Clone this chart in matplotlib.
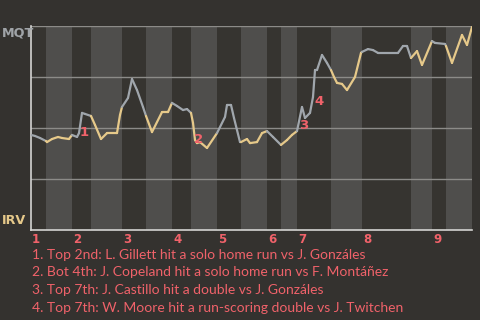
import matplotlib
matplotlib.use("Agg")
import matplotlib.pyplot as plt
from matplotlib.collections import LineCollection
import numpy as np

# half-inning start positions (play position along the game), last value = end of game
half_starts = [0, 15, 41, 60, 91, 115, 141, 160, 186, 210, 236, 250, 266, 300, 331, 380, 401, 415, 441]
innings = ["1", "2", "3", "4", "5", "6", "7", "8", "9"]

# win probability for MQT (%) at each play position
pos = [0, 4, 9, 15, 16, 21, 27, 31, 38, 41, 46, 48, 51, 54, 60, 64, 70, 76, 86, 89, 91,
       97, 101, 106, 112, 115, 121, 131, 137, 141, 146, 152, 156, 160, 162, 164, 166, 169,
       176, 186, 194, 196, 200, 203, 209, 210, 216, 219, 226, 231, 236, 242, 250, 256, 261,
       266, 271, 274, 279, 282, 284, 286, 291, 296, 300, 303, 306, 311, 316, 324, 330, 331,
       337, 342, 347, 367, 372, 376, 380, 386, 391, 401, 404, 414, 415, 421, 431, 436, 441]
wp = [46.6, 46.1, 45.1, 43.6, 43.1, 44.6, 45.6, 45.1, 44.6, 46.6, 45.6, 47.5, 57.4, 56.9,
      55.9, 51.5, 44.6, 47.5, 47.5, 56.4, 60.3, 64.7, 74.0, 68.6, 60.3, 55.9, 48.0, 57.8,
      57.8, 62.3, 60.8, 58.8, 59.3, 57.4, 52.5, 44.1, 42.6, 43.1, 40.2, 47.5, 55.4, 61.3,
      61.3, 54.9, 43.1, 43.1, 44.6, 42.6, 43.1, 47.5, 48.5, 45.6, 41.7, 44.1, 46.6, 48.5,
      60.3, 54.9, 57.4, 65.2, 78.4, 78.4, 85.8, 81.9, 78.4, 75.0, 72.1, 71.6, 68.6, 75.0,
      86.8, 87.3, 88.7, 88.2, 86.8, 86.8, 90.2, 90.2, 84.3, 87.7, 80.9, 92.6, 91.7, 91.2,
      90.2, 81.9, 95.6, 90.7, 99.5]

events = [
    "1. Top 2nd: L. Gillett hit a solo home run vs J. Gonzáles",
    "2. Bot 4th: J. Copeland hit a solo home run vs F. Montáñez",
    "3. Top 7th: J. Castillo hit a double vs J. Gonzáles",
    "4. Top 7th: W. Moore hit a run-scoring double vs J. Twitchen",
]
event_pos = [53, 168, 273, 288]
event_wp = [48.0, 44.6, 51.0, 63.2]

bg = "#34322f"
band_dark = "#363430"
band_light = "#4f4e4c"
gray = "#a0a6ac"
tan = "#e6c98a"
red = "#f0626a"

plt.rcParams["font.family"] = ["Lato", "DejaVu Sans"]
bold_font = ["DejaVu Sans"]

fig = plt.figure(figsize=(4.8, 3.2), dpi=100, facecolor=bg)
ax = fig.add_axes([31 / 480, 90 / 320, 441 / 480, 204 / 320])
ax.set_facecolor(bg)
ax.set_xlim(half_starts[0], half_starts[-1])
ax.set_ylim(0, 100)

for i in range(len(half_starts) - 1):
    ax.axvspan(half_starts[i], half_starts[i + 1],
               color=band_dark if i % 2 == 0 else band_light, lw=0, zorder=0)

for y in [25, 50, 75, 100]:
    ax.axhline(y, color="#8c8b88", lw=1, zorder=1)

for s in ["top", "right"]:
    ax.spines[s].set_visible(False)
for s in ["left", "bottom"]:
    ax.spines[s].set_color("#d4d4d2")
    ax.spines[s].set_linewidth(1.2)
ax.set_xticks([])
ax.set_yticks([])

# colour each segment by half-inning (top = gray, bottom = tan)
pts = np.column_stack([pos, wp])
segs = np.stack([pts[:-1], pts[1:]], axis=1)
mids = (pts[:-1, 0] + pts[1:, 0]) / 2
half_idx = np.searchsorted(half_starts, mids, side="right") - 1
cols = [gray if h % 2 == 0 else tan for h in half_idx]
lc = LineCollection(segs, colors=cols, linewidths=1.6, capstyle="round", zorder=3)
ax.add_collection(lc)

for k, (x, y) in enumerate(zip(event_pos, event_wp)):
    ax.text(x, y, str(k + 1), color=red, fontsize=9.5, fontweight="bold",
            family=bold_font, ha="center", va="center", zorder=4)

for j, lab in enumerate(innings):
    ax.text(half_starts[2 * j] + 1, -1.5, lab, color=red, fontsize=8.5, fontweight="bold",
            family=bold_font, ha="left", va="top")

fig.text(2 / 480, 1 - 33 / 320, "MQT", color="#a0a4a8", fontsize=9.2, fontweight="bold",
         family=bold_font, ha="left", va="center")
fig.text(2 / 480, 1 - 221 / 320, "IRV", color=tan, fontsize=9.2, fontweight="bold",
         family=bold_font, ha="left", va="center")

for i, e in enumerate(events):
    fig.text(32 / 480, 1 - (255 + 17.5 * i) / 320, e, color=red, fontsize=10,
             ha="left", va="center")

fig.savefig("out.png", dpi=100, facecolor=bg)
